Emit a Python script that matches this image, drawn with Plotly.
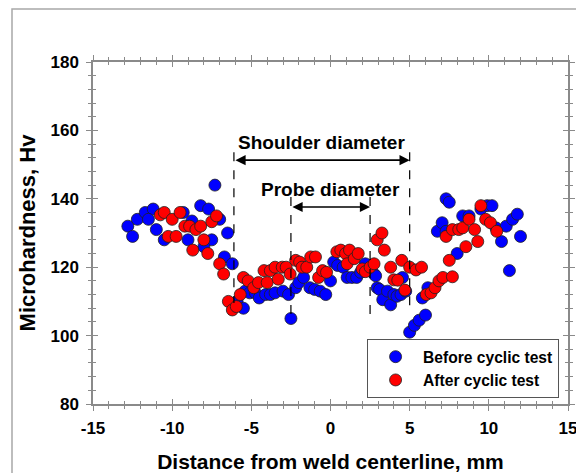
import plotly.graph_objects as go

# ---------------- data ----------------
before_x = [-12.8, -12.5, -12.2, -11.7, -11.2, -11.5, -11.0, -10.5, -9.3, -9.0, -8.75, -8.2, -7.7, -7.5,
            -8.0, -7.0, -7.3, -6.5, -6.7, -6.2, -5.9, -5.5, -5.4, -5.1, -4.75, -4.5, -4.1, -3.8, -3.5,
            -3.0, -2.65, -2.5, -2.2, -2.0, -1.7, -1.3, -1.0, -0.65, -0.3, 0.0, 0.2, 0.45, 0.8, 1.05, 1.35,
            1.65, 1.9, 2.2, 2.75, 2.85, 2.95, 3.1, 3.3, 3.6, 3.8, 4.0, 4.2, 4.45, 4.55, 4.75, 5.0, 5.3,
            5.6, 6.0, 5.8, 6.15, 6.75, 7.05, 7.3, 7.5, 7.3, 8.0, 8.35, 8.75, 9.5, 9.9, 10.2, 10.45, 10.8,
            11.1, 11.3, 11.5, 11.8, 12.0]
before_y = [132, 129, 134, 136, 137, 134, 131, 128, 136, 128, 133.5, 138, 137, 128,
            126, 134, 144, 130, 123, 121, 110, 108, 113, 112.5, 112.5, 111, 112, 112, 112.5,
            113, 112, 105, 114, 115.5, 117, 114, 113.5, 113, 112, 116, 121.5, 120.5, 120, 117, 117,
            117, 118.5, 121, 118, 117.5, 114, 113.5, 110.5, 113, 109, 112, 111.5, 112, 117, 113, 101, 103,
            104.5, 106, 111, 114, 130.5, 133, 140, 139, 130.5, 124, 135, 135, 137, 138, 138, 131.5, 127.5,
            132, 119, 134, 135.5, 129]

after_x = [-10.75, -10.5, -10.0, -9.5, -10.25, -9.75, -9.2, -8.9, -8.5, -8.2, -8.7, -8.0, -7.75, -7.5,
           -7.2, -7.0, -6.75, -6.45, -6.2, -5.95, -5.7, -5.5, -5.2, -4.85, -4.55, -4.2, -4.0, -3.8, -3.5,
           -3.3, -3.05, -2.8, -2.55, -2.2, -1.95, -1.8, -1.5, -1.25, -0.95, -0.75, -0.5, -0.25, 0.4, 0.65,
           0.95, 1.05, 1.2, 1.5, 1.75, 2.0, 2.2, 2.5, 2.75, 2.95, 3.25, 3.4, 3.8, 4.0, 4.25, 4.5, 4.7,
           5.0, 5.4, 5.75, 6.05, 6.35, 6.6, 6.85, 7.1, 7.5, 7.7, 7.3, 7.7, 8.1, 8.35, 8.55, 8.75, 9.1,
           9.3, 9.5, 9.8, 10.1, 10.5]
after_y = [135.3, 136, 134, 136, 129, 129, 132, 132, 131, 132, 125, 128, 124, 133.3,
           135, 121, 118, 110, 107.5, 108.5, 112, 117, 116, 114, 115.5, 119, 115.5, 119, 120,
           116.5, 120, 120, 118, 122, 121.5, 120, 120, 123, 123, 117, 119, 118.5, 124.5, 125,
           124, 121, 125, 122.5, 124, 119.5, 118.7, 120, 121, 128, 130, 125, 120, 116.3, 116.2, 122, 113.3,
           120, 119.2, 120, 112, 112.5, 114, 116, 117, 122, 117.2, 129, 131, 131, 131.5, 126, 134, 131,
           127.5, 138, 134, 133, 130.5]

series_names = ["Before cyclic test", "After cyclic test"]
x_tick_vals = [-15, -10, -5, 0, 5, 10, 15]
x_tick_text = ["-15", "-10", "-5", "0", "5", "10", "15"]
y_tick_vals = [80, 100, 120, 140, 160, 180]
y_tick_text = ["80", "100", "120", "140", "160", "180"]

# dimension markers (x positions, y of arrow, y of lower end of guide lines)
shoulder_edges = [-6.1, 5.0]
shoulder_arrow_y = 151.3
shoulder_line_bottom = [109.5, 106.5]
probe_edges = [-2.5, 2.5]
probe_arrow_y = 137.6
probe_line_top = 140.5
probe_line_bottom = [105, 105]

FONT = "Liberation Sans, Arial, sans-serif"

fig = go.Figure()
fig.add_trace(go.Scatter(
    x=before_x, y=before_y, mode="markers", name=series_names[0],
    marker=dict(color="#0000FF", size=12, line=dict(color="#202020", width=0.8))))
fig.add_trace(go.Scatter(
    x=after_x, y=after_y, mode="markers", name=series_names[1],
    marker=dict(color="#FF0000", size=12, line=dict(color="#202020", width=0.8))))
# empty trace to carry the overlay axes (inner half of crossing ticks)
fig.add_trace(go.Scatter(x=[None], y=[None], xaxis="x2", yaxis="y2",
                         showlegend=False, hoverinfo="skip"))

axis_col = "#8a8a8a"
common = dict(showgrid=False, zeroline=False, showline=True, linecolor=axis_col,
              linewidth=1.5, tickcolor=axis_col, tickwidth=1.2, mirror="ticks",
              automargin=False)

# page body has an 8px margin, so the plot area offsets are compensated
fig.update_layout(
    width=584, height=473, autosize=False,
    margin=dict(l=85, r=24, t=54, b=77),
    paper_bgcolor="white", plot_bgcolor="white",
    font=dict(family=FONT, color="black"),
    xaxis=dict(range=[-15, 15], tickvals=x_tick_vals, ticktext=x_tick_text,
               ticks="outside", ticklen=5,
               minor=dict(dtick=1, ticks="outside", ticklen=3, tickcolor=axis_col, tickwidth=1),
               tickfont=dict(size=17, weight="bold"), ticklabelstandoff=3,
               title=dict(text="Distance from weld centerline, mm",
                          font=dict(size=21, weight="bold"), standoff=17),
               **common),
    yaxis=dict(range=[80, 180], tickvals=y_tick_vals, ticktext=y_tick_text,
               ticks="outside", ticklen=5,
               minor=dict(dtick=4, ticks="outside", ticklen=3, tickcolor=axis_col, tickwidth=1),
               tickfont=dict(size=17, weight="bold"), ticklabelstandoff=4,
               title=dict(text="Microhardness, Hv",
                          font=dict(size=22, weight="bold"), standoff=9),
               **common),
    xaxis2=dict(overlaying="x", anchor="y2", range=[-15, 15], tickvals=x_tick_vals,
                ticks="inside", ticklen=5, showticklabels=False,
                minor=dict(dtick=1, ticks="inside", ticklen=3, tickcolor=axis_col, tickwidth=1),
                **common),
    yaxis2=dict(overlaying="y", anchor="x2", range=[80, 180], tickvals=y_tick_vals,
                ticks="inside", ticklen=5, showticklabels=False,
                minor=dict(dtick=4, ticks="inside", ticklen=3, tickcolor=axis_col, tickwidth=1),
                **common),
    legend=dict(x=0.577, y=0.19, xanchor="left", yanchor="top",
                bgcolor="white", bordercolor="#555555", borderwidth=1,
                font=dict(size=15.6, weight="bold"), itemwidth=45, tracegroupgap=0),
    showlegend=True,
)

# outer frame of the picture
fig.add_shape(type="rect", xref="paper", yref="paper",
              x0=(12 - 93) / 475, x1=1.2, y0=-0.4, y1=(404 - 9) / 342,
              line=dict(color="#a8a8a8", width=1.5), layer="below")

# dashed guide lines
for xe, yb in zip(shoulder_edges, shoulder_line_bottom):
    fig.add_shape(type="line", xref="x", yref="y", x0=xe, x1=xe, y0=shoulder_arrow_y + 2.3, y1=yb,
                  line=dict(color="black", width=1.2, dash="dash"))
for xe, yb in zip(probe_edges, probe_line_bottom):
    fig.add_shape(type="line", xref="x", yref="y", x0=xe, x1=xe, y0=probe_line_top, y1=yb,
                  line=dict(color="black", width=1.2, dash="dash"))

# double-headed arrows
for edges, ya in [(shoulder_edges, shoulder_arrow_y), (probe_edges, probe_arrow_y)]:
    fig.add_annotation(x=edges[1], y=ya, ax=edges[0], ay=ya, xref="x", yref="y",
                       axref="x", ayref="y", text="", showarrow=True,
                       arrowside="end+start", arrowhead=2, arrowsize=1.2,
                       arrowwidth=1.7, arrowcolor="black", standoff=0, startstandoff=0)

fig.add_annotation(x=sum(shoulder_edges) / 2, y=shoulder_arrow_y + 5.3, text="Shoulder diameter",
                   xref="x", yref="y", showarrow=False, yanchor="middle",
                   font=dict(size=19, weight="bold"))
fig.add_annotation(x=sum(probe_edges) / 2, y=probe_arrow_y + 5.0, text="Probe diameter",
                   xref="x", yref="y", showarrow=False, yanchor="middle",
                   font=dict(size=19, weight="bold"))

fig.write_html("out.html")
